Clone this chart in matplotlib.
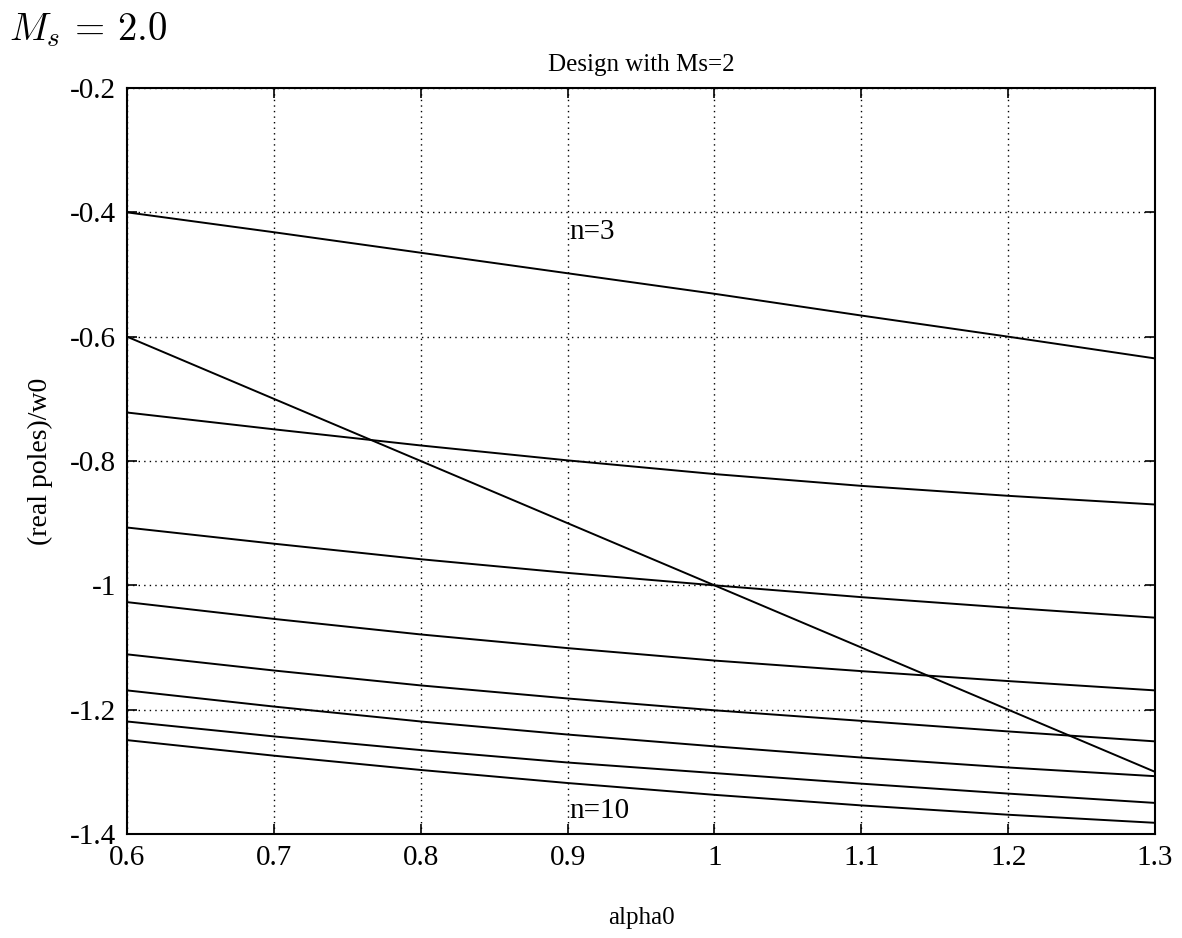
import matplotlib
matplotlib.use("Agg")
import matplotlib.pyplot as plt

plt.rcParams['font.family'] = ['Liberation Serif', 'DejaVu Serif']
plt.rcParams['mathtext.fontset'] = 'cm'

alpha0 = [0.6, 0.7, 0.8, 0.9, 1.0, 1.1, 1.2, 1.3]
n_values = [3, 4, 5, 6, 7, 8, 9, 10]
poles = {
    3:  [-0.400, -0.432, -0.465, -0.498, -0.531, -0.566, -0.600, -0.635],
    4:  [-0.722, -0.749, -0.775, -0.799, -0.821, -0.840, -0.856, -0.870],
    5:  [-0.907, -0.933, -0.958, -0.980, -1.000, -1.019, -1.036, -1.052],
    6:  [-1.027, -1.054, -1.079, -1.101, -1.121, -1.138, -1.154, -1.169],
    7:  [-1.111, -1.137, -1.161, -1.182, -1.201, -1.218, -1.235, -1.251],
    8:  [-1.169, -1.195, -1.219, -1.240, -1.259, -1.277, -1.293, -1.307],
    9:  [-1.219, -1.243, -1.265, -1.285, -1.302, -1.319, -1.335, -1.350],
    10: [-1.249, -1.274, -1.297, -1.318, -1.337, -1.354, -1.369, -1.382],
}
diag_line = [-0.6, -0.7, -0.8, -0.9, -1.0, -1.1, -1.2, -1.3]

xticks = [0.6, 0.7, 0.8, 0.9, 1.0, 1.1, 1.2, 1.3]
xticklabels = ['0.6', '0.7', '0.8', '0.9', '1', '1.1', '1.2', '1.3']
yticks = [-1.4, -1.2, -1.0, -0.8, -0.6, -0.4, -0.2]
yticklabels = ['-1.4', '-1.2', '-1', '-0.8', '-0.6', '-0.4', '-0.2']

fig = plt.figure(figsize=(11.82, 9.38), dpi=100)
ax = fig.add_axes([127/1182, 1 - 834/938, (1155 - 127)/1182, (834 - 88)/938])

for n in n_values:
    ax.plot(alpha0, poles[n], color='black', lw=1.4)
ax.plot(alpha0, diag_line, color='black', lw=1.4)

ax.set_xlim(0.6, 1.3)
ax.set_ylim(-1.4, -0.2)
ax.set_xticks(xticks)
ax.set_xticklabels(xticklabels)
ax.set_yticks(yticks)
ax.set_yticklabels(yticklabels)
ax.tick_params(direction='in', length=7, width=1.2, labelsize=21, pad=8,
               top=True, right=True)
ax.grid(True, color='black', linestyle=(0, (1, 3)), linewidth=1.0)
for s in ax.spines.values():
    s.set_linewidth(1.5)

ax.text(0.901, -0.432, 'n=3', fontsize=21, ha='left', va='center')
ax.text(0.901, -1.363, 'n=10', fontsize=21, ha='left', va='center')

ax.set_title('Design with Ms=2', fontsize=18, pad=12)
ax.set_xlabel('alpha0', fontsize=18, labelpad=26)
ax.set_ylabel('(real poles)/w0', fontsize=20, labelpad=12)

fig.text(0.008, 0.988, r'$M_s\,=\,2.0$', fontsize=28, ha='left', va='top')

fig.savefig('out.png', dpi=100)
